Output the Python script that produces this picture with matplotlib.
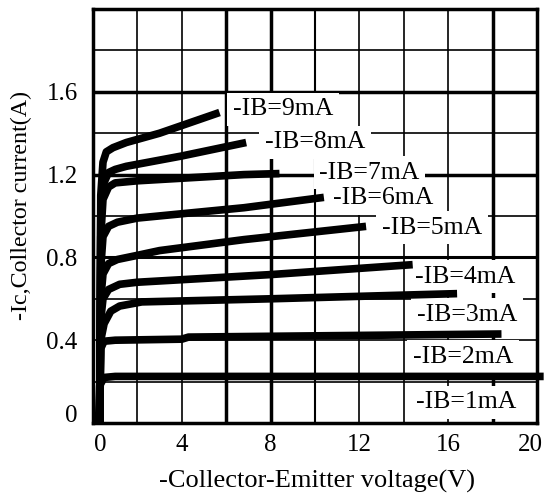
import matplotlib
matplotlib.use("Agg")
import matplotlib.pyplot as plt
import matplotlib.transforms as mtransforms

plt.rcParams['font.family'] = ['Liberation Serif', 'DejaVu Serif']

# output curves: (-Vce [V], -Ic [A]) per base current
ib_labels = ["-IB=1mA", "-IB=2mA", "-IB=3mA", "-IB=4mA", "-IB=5mA",
             "-IB=6mA", "-IB=7mA", "-IB=8mA", "-IB=9mA"]

vce_1 = [0.25, 0.3, 0.5, 1.0, 20.3]
ic_1 = [0.0, 0.18, 0.22, 0.225, 0.225]

vce_2 = [0.3, 0.35, 0.5, 1.0, 4.0, 4.3, 18.4]
ic_2 = [0.0, 0.36, 0.395, 0.40, 0.405, 0.415, 0.43]

vce_3 = [0.3, 0.35, 0.5, 0.8, 1.2, 2.2, 8.0, 16.4]
ic_3 = [0.0, 0.40, 0.48, 0.54, 0.565, 0.585, 0.60, 0.625]

vce_4 = [0.3, 0.35, 0.45, 0.7, 1.2, 2.0, 8.0, 14.4]
ic_4 = [0.0, 0.50, 0.60, 0.645, 0.67, 0.68, 0.717, 0.765]

vce_5 = [0.3, 0.35, 0.45, 0.7, 1.1, 2.0, 3.0, 6.8, 12.3]
ic_5 = [0.0, 0.60, 0.72, 0.77, 0.79, 0.81, 0.833, 0.886, 0.95]

vce_6 = [0.3, 0.35, 0.45, 0.7, 1.1, 2.0, 6.8, 10.4]
ic_6 = [0.0, 0.75, 0.90, 0.95, 0.97, 0.99, 1.04, 1.09]

vce_7 = [0.3, 0.35, 0.45, 0.7, 1.0, 2.0, 6.8, 8.4]
ic_7 = [0.0, 0.90, 1.08, 1.14, 1.16, 1.17, 1.20, 1.205]

vce_8 = [0.3, 0.35, 0.45, 0.7, 1.0, 1.5, 4.0, 6.9]
ic_8 = [0.0, 1.00, 1.15, 1.21, 1.225, 1.24, 1.29, 1.355]

vce_9 = [0.3, 0.35, 0.45, 0.6, 0.9, 1.5, 3.0, 5.7]
ic_9 = [0.0, 1.10, 1.26, 1.31, 1.33, 1.355, 1.40, 1.50]

curves = [(vce_1, ic_1), (vce_2, ic_2), (vce_3, ic_3), (vce_4, ic_4), (vce_5, ic_5),
          (vce_6, ic_6), (vce_7, ic_7), (vce_8, ic_8), (vce_9, ic_9)]

# where each label sits (left edge, centre)
label_x = [14.55, 14.4, 14.6, 14.5, 13.0, 10.8, 10.2, 7.75, 6.3]
label_y = [0.10, 0.32, 0.523, 0.707, 0.944, 1.085, 1.21, 1.356, 1.516]

x_ticks = [0, 4, 8, 12, 16, 20]
y_ticks = [0, 0.4, 0.8, 1.2, 1.6]

x_grid = [2, 4, 6, 8, 10, 12, 14, 16, 18]
x_grid_w = [1.2, 1.2, 2.5, 2.5, 1.5, 1.2, 1.2, 1.2, 2.5]
y_grid = [0.2, 0.4, 0.6, 0.8, 1.0, 1.2, 1.4, 1.6, 1.8]
y_grid_w = [1.2, 1.2, 1.2, 2.2, 1.2, 2.5, 1.2, 2.5, 1.2]

fig = plt.figure(figsize=(5.44, 5.03), dpi=100)
ax = fig.add_axes([93 / 544, 1 - 423 / 503, 444 / 544, 414 / 503])
ax.set_xlim(0, 20)
ax.set_ylim(0, 2.0)

for xg, w in zip(x_grid, x_grid_w):
    ax.axvline(xg, color='black', lw=w, zorder=1)
for yg, w in zip(y_grid, y_grid_w):
    ax.axhline(yg, color='black', lw=w, zorder=1)

for (v, i) in curves:
    ax.plot(v, i, color='black', lw=5.5, solid_capstyle='butt',
            solid_joinstyle='round', zorder=4, clip_on=False)

# white boxes first, then the text on top so neighbouring boxes don't hide labels
for lab, lx, ly in zip(ib_labels, label_x, label_y):
    ax.text(lx, ly, lab, fontsize=18.5, ha='left', va='center', zorder=2,
            color='white', bbox=dict(facecolor='white', edgecolor='none', pad=4))
for lab, lx, ly in zip(ib_labels, label_x, label_y):
    ax.text(lx, ly, lab, fontsize=18.5, ha='left', va='center', zorder=3)

ax.set_xticks(x_ticks)
ax.set_xticklabels([str(t) for t in x_ticks])
ax.set_yticks(y_ticks)
ax.set_yticklabels(["0", "0.4", "0.8", "1.2", "1.6"])
ax.tick_params(length=0, labelsize=18)
ax.tick_params(axis='x', pad=8)
ax.tick_params(axis='y', pad=11)

# nudge the end labels like in the scan
xl = ax.get_xticklabels()
xl[0].set_transform(xl[0].get_transform() + mtransforms.ScaledTranslation(7 / 100, 0, fig.dpi_scale_trans))
xl[-1].set_transform(xl[-1].get_transform() + mtransforms.ScaledTranslation(-7 / 100, 0, fig.dpi_scale_trans))
yl = ax.get_yticklabels()
yl[0].set_transform(yl[0].get_transform() + mtransforms.ScaledTranslation(0, 10 / 100, fig.dpi_scale_trans))

for s in ax.spines.values():
    s.set_linewidth(2.5)
    s.set_zorder(5)

fig.text(317 / 544, 1 - 481 / 503, "-Collector-Emitter voltage(V)", fontsize=19,
         ha='center', va='center')
fig.text(21 / 544, 1 - 205 / 503, "-Ic,Collector current(A)", fontsize=17.3,
         ha='center', va='center', rotation=90)

fig.savefig("out.png", dpi=100)
